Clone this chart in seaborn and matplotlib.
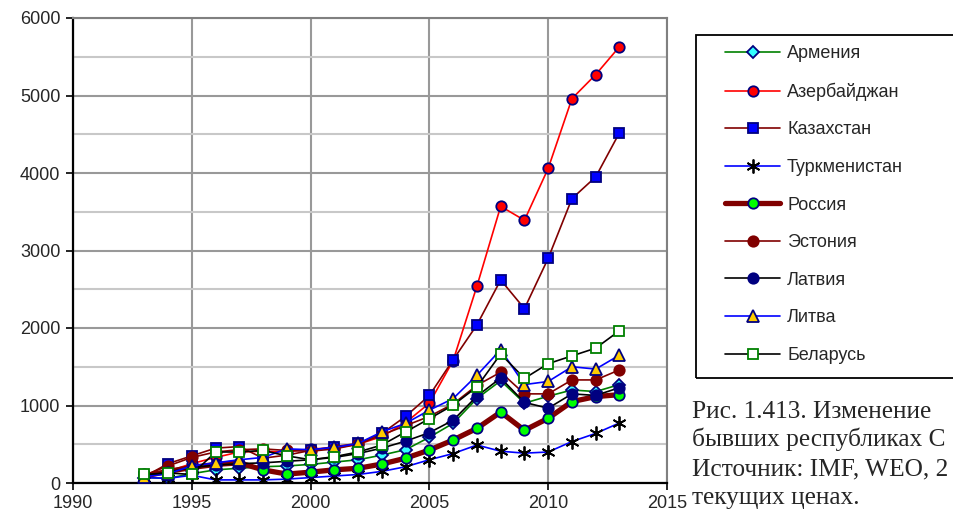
import pandas as pd
import seaborn as sns
import matplotlib.pyplot as plt
from matplotlib.patches import Rectangle

# data
years = list(range(1993, 2014))
countries = ['Армения', 'Азербайджан', 'Казахстан', 'Туркменистан', 'Россия',
             'Эстония', 'Латвия', 'Литва', 'Беларусь']
armenia      = [70, 60, 120, 170, 190, 210, 220, 240, 270, 300, 360, 430, 590, 770, 1090, 1320, 1030, 1120, 1200, 1180, 1270]
azerbaijan   = [110, 150, 250, 330, 400, 410, 400, 440, 450, 500, 600, 780, 1030, 1580, 2540, 3570, 3390, 4060, 4960, 5270, 5630]
kazakhstan   = [80, 250, 350, 450, 470, 320, 360, 420, 470, 510, 640, 860, 1130, 1590, 2040, 2620, 2250, 2900, 3670, 3950, 4520]
turkmenistan = [70, 60, 100, 40, 40, 40, 50, 70, 90, 110, 150, 210, 300, 380, 490, 410, 385, 400, 535, 640, 775]
russia       = [90, 150, 200, 240, 260, 170, 115, 140, 170, 190, 245, 320, 425, 555, 705, 915, 680, 835, 1050, 1115, 1140]
estonia      = [100, 220, 330, 400, 430, 440, 420, 410, 440, 500, 620, 740, 860, 1020, 1260, 1430, 1150, 1150, 1330, 1330, 1460]
latvia       = [90, 140, 200, 230, 250, 260, 280, 300, 330, 380, 450, 540, 650, 810, 1120, 1355, 1040, 965, 1150, 1130, 1230]
lithuania    = [80, 120, 220, 260, 300, 330, 440, 430, 460, 510, 660, 770, 940, 1090, 1390, 1720, 1270, 1310, 1500, 1470, 1650]
belarus      = [110, 130, 110, 400, 400, 420, 350, 300, 340, 400, 490, 660, 830, 1005, 1240, 1665, 1350, 1540, 1640, 1740, 1965]

series = [armenia, azerbaijan, kazakhstan, turkmenistan, russia, estonia, latvia, lithuania, belarus]
rows = []
for name, vals in zip(countries, series):
    for y, v in zip(years, vals):
        rows.append({'country': name, 'year': y, 'value': v})
df = pd.DataFrame(rows)

# line colour, width, marker, face, edge, size
styles = {
    'Армения':      ('#008000', 1.2, 'D', '#33FFFF', '#000080', 6),
    'Азербайджан':  ('#FF0000', 1.2, 'o', '#FF0000', '#000080', 7.5),
    'Казахстан':    ('#800000', 1.2, 's', '#0000FF', '#000080', 7.5),
    'Туркменистан': ('#0000FF', 1.2, (6, 2, 0), 'black', 'black', 10),
    'Россия':       ('#800000', 3.8, 'o', '#00FF00', '#000080', 7.5),
    'Эстония':      ('#800000', 1.2, 'o', '#800000', '#800000', 7.5),
    'Латвия':       ('#000000', 1.2, 'o', '#000080', '#000080', 7.5),
    'Литва':        ('#0000FF', 1.2, '^', '#FFCC00', '#000080', 8),
    'Беларусь':     ('#000000', 1.2, 's', 'white', '#008000', 7.5),
}

sns.set_style('white')
plt.rcParams['font.family'] = ['Liberation Sans', 'DejaVu Sans']

fig = plt.figure(figsize=(9.54, 5.28), dpi=100)
ax = fig.add_axes([73 / 954, 1 - 483 / 528, 594 / 954, 465 / 528])

for i, name in enumerate(countries):
    c, lw, m, fc, ec, ms = styles[name]
    sns.lineplot(data=df[df['country'] == name], x='year', y='value', ax=ax,
                 color=c, linewidth=lw, marker=m, markersize=ms,
                 markerfacecolor=fc, markeredgecolor=ec, markeredgewidth=1.3,
                 label=name, zorder=3 + i)

ax.set_xlim(1990, 2015)
ax.set_ylim(0, 6000)
ax.set_xticks(range(1990, 2016, 5))
ax.set_yticks(range(0, 6001, 1000))
ax.set_yticks(range(500, 6000, 1000), minor=True)
ax.set_xlabel('')
ax.set_ylabel('')
ax.grid(True, which='major', color='#999999', linewidth=1.5, zorder=0)
ax.grid(True, which='minor', axis='y', color='#C8C8C8', linewidth=1.5, zorder=0)
ax.set_axisbelow(True)
ax.tick_params(axis='both', which='major', direction='out', length=5, width=1.2,
               color='black', labelsize=13, pad=4, left=True, bottom=True)
ax.tick_params(axis='y', which='minor', length=0)
for s in ['left', 'bottom']:
    ax.spines[s].set_color('black')
    ax.spines[s].set_linewidth(1.6)
for s in ['top', 'right']:
    ax.spines[s].set_color('#808080')
    ax.spines[s].set_linewidth(1.5)

ax.get_legend().remove()
handles, labels = ax.get_legend_handles_labels()
fig.legend(handles, labels, loc='upper left', bbox_to_anchor=(725 / 954, 1 - 45 / 528),
           frameon=False, fontsize=13, handlelength=3.05, handletextpad=0.39,
           labelspacing=1.14, borderaxespad=0, borderpad=0)
fig.patches.append(Rectangle((696 / 954, 1 - 378 / 528), 0.35, 343 / 528,
                             transform=fig.transFigure, fill=False,
                             edgecolor='black', linewidth=1.3))

caption = ['Рис. 1.413. Изменение',
           'бывших республиках С',
           'Источник: IMF, WEO, 2',
           'текущих ценах.']
baselines = [418, 446, 475, 504]
for line, yb in zip(caption, baselines):
    fig.text(692 / 954, 1 - yb / 528, line, fontsize=18.3,
             family='Liberation Serif', va='baseline', ha='left')

fig.savefig('out.png', dpi=100)
